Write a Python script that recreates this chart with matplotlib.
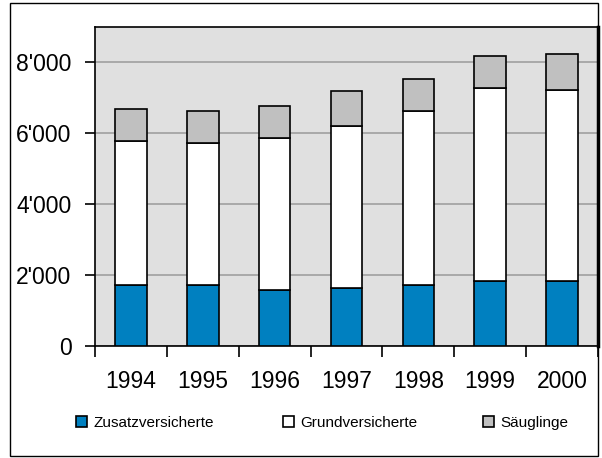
import matplotlib.pyplot as plt
import matplotlib.patches as mpatches
import numpy as np
from matplotlib.ticker import FuncFormatter

plt.rcParams['font.family'] = ['Liberation Sans', 'DejaVu Sans']

# data
years = ['1994', '1995', '1996', '1997', '1998', '1999', '2000']
zusatz = [1720, 1720, 1590, 1640, 1720, 1820, 1820]
grund = [4060, 4000, 4290, 4580, 4920, 5450, 5410]
saeuglinge = [900, 920, 900, 970, 900, 910, 1010]

W, H = 602, 458
fig = plt.figure(figsize=(W / 100, H / 100), dpi=100)

# outer frame
fig.patches.append(mpatches.Rectangle((10 / W, 1 - 456 / H), 588 / W, 453 / H,
                                      transform=fig.transFigure, fill=False,
                                      edgecolor='black', linewidth=1))

ax = fig.add_axes([95 / W, 1 - 346 / H, 503 / W, 319 / H])
ax.set_facecolor('#e0e0e0')

x = np.arange(len(years))
bw = 0.44
z = np.array(zusatz)
g = np.array(grund)
s = np.array(saeuglinge)
b1 = ax.bar(x, z, bw, color='#0080c0', edgecolor='black', linewidth=1.2, zorder=3)
b2 = ax.bar(x, g, bw, bottom=z, color='white', edgecolor='black', linewidth=1.2, zorder=3)
b3 = ax.bar(x, s, bw, bottom=z + g, color='#c0c0c0', edgecolor='black', linewidth=1.2, zorder=3)

ax.set_xlim(-0.5, len(years) - 0.5)
ax.set_ylim(0, 9000)
ax.set_yticks([0, 2000, 4000, 6000, 8000])
ax.yaxis.set_major_formatter(FuncFormatter(lambda v, p: f'{int(v):,}'.replace(',', "'")))
ax.yaxis.grid(True, color='#a0a0a0', linewidth=1.2, zorder=0)
ax.set_axisbelow(True)

ax.set_xticks(x)
ax.set_xticklabels(years)
ax.set_xticks(np.arange(-0.5, len(years)), minor=True)
ax.tick_params(axis='x', which='major', length=0, pad=17, labelsize=16.5)
ax.tick_params(axis='x', which='minor', length=8, width=1.2, direction='out')
ax.tick_params(axis='y', length=7, width=1.2, direction='out', pad=10, labelsize=16.5)

for side in ['top', 'left', 'bottom']:
    ax.spines[side].set_linewidth(1.2)
ax.spines['right'].set_linewidth(2.5)

# legend entries placed one by one, like the original
labels = ['Zusatzversicherte', 'Grundversicherte', 'Säuglinge']
for handle, label, xpos in zip([b1, b2, b3], labels, [76, 283, 483]):
    fig.legend([handle], [label], loc='center left',
               bbox_to_anchor=(xpos / W, 1 - 423 / H), frameon=False,
               fontsize=11, handlelength=0.75, handleheight=0.75,
               handletextpad=0.4, borderpad=0, borderaxespad=0)

fig.savefig('out.png', dpi=100)
